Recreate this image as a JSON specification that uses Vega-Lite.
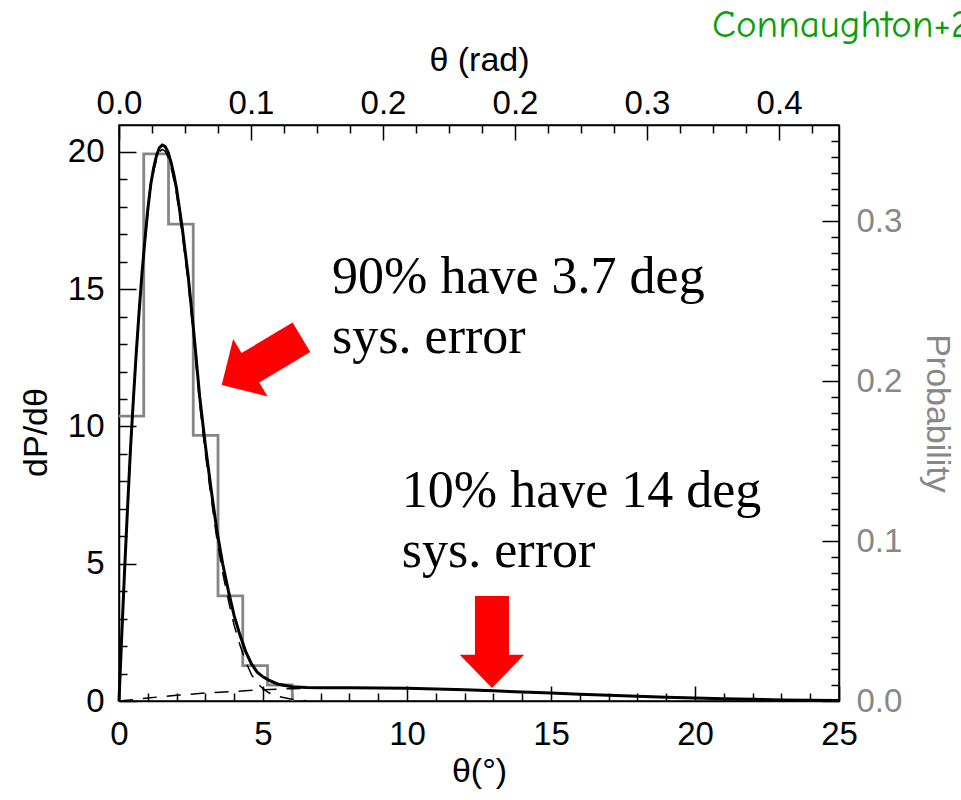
{
  "$schema": "https://vega.github.io/schema/vega-lite/v6.json",
  "width": 720,
  "height": 576,
  "autosize": {"type": "none"},
  "padding": {"left": 119, "top": 125, "right": 122, "bottom": 99},
  "background": "white",
  "config": {
    "view": {"stroke": "black", "strokeWidth": 1.5},
    "axis": {
      "grid": false,
      "domainColor": "black",
      "domainWidth": 1.5,
      "tickColor": "black",
      "tickWidth": 1.5,
      "labelFont": "Liberation Sans",
      "labelFontSize": 33,
      "labelColor": "black",
      "titleFont": "Liberation Sans",
      "titleFontSize": 34,
      "titleFontWeight": "normal",
      "titleColor": "black",
      "labelOverlap": false,
      "labelFlush": false
    }
  },
  "datasets": {
    "total": [
      {"theta": 0, "dp": 0}, {"theta": 0.1, "dp": 2.5}, {"theta": 0.2, "dp": 4.9}, {"theta": 0.3, "dp": 7.1},
      {"theta": 0.4, "dp": 9.2}, {"theta": 0.5, "dp": 11.0}, {"theta": 0.6, "dp": 12.7}, {"theta": 0.7, "dp": 14.2},
      {"theta": 0.8, "dp": 15.6}, {"theta": 0.9, "dp": 16.8}, {"theta": 1.0, "dp": 17.9}, {"theta": 1.1, "dp": 18.8},
      {"theta": 1.2, "dp": 19.4}, {"theta": 1.3, "dp": 19.85}, {"theta": 1.4, "dp": 20.15}, {"theta": 1.5, "dp": 20.25},
      {"theta": 1.6, "dp": 20.2}, {"theta": 1.7, "dp": 20.0}, {"theta": 1.8, "dp": 19.65}, {"theta": 1.9, "dp": 19.2},
      {"theta": 2.0, "dp": 18.65}, {"theta": 2.2, "dp": 17.2}, {"theta": 2.4, "dp": 15.5}, {"theta": 2.6, "dp": 13.4},
      {"theta": 2.8, "dp": 11.1}, {"theta": 3.0, "dp": 9.3}, {"theta": 3.2, "dp": 7.7}, {"theta": 3.4, "dp": 6.2},
      {"theta": 3.6, "dp": 5.0}, {"theta": 3.8, "dp": 4.0}, {"theta": 4.0, "dp": 3.1}, {"theta": 4.2, "dp": 2.4},
      {"theta": 4.4, "dp": 1.8}, {"theta": 4.6, "dp": 1.35}, {"theta": 4.8, "dp": 1.05}, {"theta": 5.0, "dp": 0.88},
      {"theta": 5.2, "dp": 0.76}, {"theta": 5.5, "dp": 0.62}, {"theta": 6.0, "dp": 0.52}, {"theta": 6.5, "dp": 0.49},
      {"theta": 7, "dp": 0.48}, {"theta": 8, "dp": 0.48}, {"theta": 9, "dp": 0.47}, {"theta": 10, "dp": 0.46},
      {"theta": 11, "dp": 0.44}, {"theta": 12, "dp": 0.41}, {"theta": 13, "dp": 0.37}, {"theta": 14, "dp": 0.33},
      {"theta": 15, "dp": 0.29}, {"theta": 16, "dp": 0.25}, {"theta": 17, "dp": 0.21}, {"theta": 18, "dp": 0.17},
      {"theta": 19, "dp": 0.14}, {"theta": 20, "dp": 0.11}, {"theta": 21, "dp": 0.08}, {"theta": 22, "dp": 0.06},
      {"theta": 23, "dp": 0.04}, {"theta": 24, "dp": 0.03}, {"theta": 25, "dp": 0.02}
    ],
    "narrow": [
      {"theta": 0, "dp": 0}, {"theta": 0.1, "dp": 2.49}, {"theta": 0.2, "dp": 4.88}, {"theta": 0.3, "dp": 7.08},
      {"theta": 0.4, "dp": 9.16}, {"theta": 0.5, "dp": 10.95}, {"theta": 0.6, "dp": 12.64}, {"theta": 0.7, "dp": 14.13},
      {"theta": 0.8, "dp": 15.52}, {"theta": 0.9, "dp": 16.71}, {"theta": 1.0, "dp": 17.79}, {"theta": 1.1, "dp": 18.68},
      {"theta": 1.2, "dp": 19.27}, {"theta": 1.3, "dp": 19.71}, {"theta": 1.4, "dp": 20.0}, {"theta": 1.5, "dp": 20.09},
      {"theta": 1.6, "dp": 20.03}, {"theta": 1.7, "dp": 19.82}, {"theta": 1.8, "dp": 19.46}, {"theta": 1.9, "dp": 19.0},
      {"theta": 2.0, "dp": 18.44}, {"theta": 2.2, "dp": 16.97}, {"theta": 2.4, "dp": 15.26}, {"theta": 2.6, "dp": 13.14},
      {"theta": 2.8, "dp": 10.83}, {"theta": 3.0, "dp": 9.01}, {"theta": 3.2, "dp": 7.4}, {"theta": 3.4, "dp": 5.89},
      {"theta": 3.6, "dp": 4.67}, {"theta": 3.8, "dp": 3.66}, {"theta": 4.0, "dp": 2.75}, {"theta": 4.2, "dp": 2.04},
      {"theta": 4.4, "dp": 1.43}, {"theta": 4.6, "dp": 0.96}, {"theta": 4.8, "dp": 0.65}, {"theta": 5.0, "dp": 0.45},
      {"theta": 5.2, "dp": 0.3}, {"theta": 5.5, "dp": 0.17}, {"theta": 6.0, "dp": 0.06}, {"theta": 6.5, "dp": 0.01}
    ],
    "broad": [
      {"theta": 0, "dp": 0}, {"theta": 0.5, "dp": 0.05}, {"theta": 1, "dp": 0.11}, {"theta": 1.5, "dp": 0.16},
      {"theta": 2, "dp": 0.21}, {"theta": 2.5, "dp": 0.25}, {"theta": 3, "dp": 0.29}, {"theta": 3.5, "dp": 0.32},
      {"theta": 4, "dp": 0.35}, {"theta": 4.5, "dp": 0.38}, {"theta": 5, "dp": 0.41}, {"theta": 5.5, "dp": 0.43},
      {"theta": 6, "dp": 0.45}, {"theta": 6.5, "dp": 0.46}, {"theta": 7, "dp": 0.47}, {"theta": 8, "dp": 0.48},
      {"theta": 9, "dp": 0.47}, {"theta": 10, "dp": 0.46}, {"theta": 11, "dp": 0.44}, {"theta": 12, "dp": 0.41},
      {"theta": 13, "dp": 0.37}, {"theta": 14, "dp": 0.33}, {"theta": 15, "dp": 0.29}, {"theta": 16, "dp": 0.25},
      {"theta": 17, "dp": 0.21}, {"theta": 18, "dp": 0.17}, {"theta": 19, "dp": 0.14}, {"theta": 20, "dp": 0.11},
      {"theta": 21, "dp": 0.08}, {"theta": 22, "dp": 0.06}, {"theta": 23, "dp": 0.04}, {"theta": 24, "dp": 0.03},
      {"theta": 25, "dp": 0.02}
    ],
    "hist": [
      {"theta": 0, "prob": 0.178}, {"theta": 0.859, "prob": 0.342}, {"theta": 1.719, "prob": 0.298},
      {"theta": 2.578, "prob": 0.166}, {"theta": 3.438, "prob": 0.0657}, {"theta": 4.297, "prob": 0.0221},
      {"theta": 5.157, "prob": 0.0100}, {"theta": 6.016, "prob": 0}
    ],
    "arrows": [
      {"theta": 4.95, "dp": 12.38, "target": "narrow"},
      {"theta": 12.95, "dp": 2.15, "target": "broad"}
    ],
    "notes": [
      {"theta": 7.40, "dp": 14.86, "label": "90% have 3.7 deg\nsys. error"},
      {"theta": 9.82, "dp": 7.08, "label": "10% have 14 deg\nsys. error"}
    ],
    "cite": [
      {"theta": 20.59, "dp": 24.2, "label": "Connaughton+2015"}
    ],
    "radaxis": [
      {"rad": 0}, {"rad": 0.43633}
    ]
  },
  "layer": [
    {
      "data": {"name": "hist"},
      "mark": {"type": "line", "interpolate": "step-after", "color": "#868686", "strokeWidth": 2.8},
      "encoding": {
        "x": {"field": "theta", "type": "quantitative", "scale": {"domain": [0, 25], "nice": false, "zero": false}, "axis": null},
        "y": {
          "field": "prob", "type": "quantitative",
          "scale": {"domain": [0, 0.36], "nice": false},
          "axis": {
            "orient": "right",
            "title": "Probability",
            "titleColor": "#888888",
            "labelColor": "#888888",
            "values": [0, 0.01, 0.02, 0.03, 0.04, 0.05, 0.06, 0.07, 0.08, 0.09, 0.1, 0.11, 0.12, 0.13, 0.14, 0.15, 0.16, 0.17, 0.18, 0.19, 0.2, 0.21, 0.22, 0.23, 0.24, 0.25, 0.26, 0.27, 0.28, 0.29, 0.3, 0.31, 0.32, 0.33, 0.34, 0.35],
            "labelExpr": "round(datum.value * 100) % 10 === 0 ? format(datum.value, '.1f') : ''",
            "tickSize": {"condition": {"test": "round(datum.value * 100) % 10 === 0", "value": -17}, "value": -8},
            "labelPadding": 34,
            "titlePadding": 18
          }
        }
      }
    },
    {
      "encoding": {
        "x": {
          "field": "theta", "type": "quantitative",
          "scale": {"domain": [0, 25], "nice": false, "zero": false},
          "axis": {
            "orient": "bottom",
            "title": "θ(°)",
            "values": [0, 1, 2, 3, 4, 5, 6, 7, 8, 9, 10, 11, 12, 13, 14, 15, 16, 17, 18, 19, 20, 21, 22, 23, 24, 25],
            "labelExpr": "datum.value % 5 === 0 ? datum.label : ''",
            "tickSize": {"condition": {"test": "datum.value % 5 === 0", "value": -15}, "value": -8},
            "labelPadding": 32,
            "titlePadding": -4
          }
        },
        "y": {
          "field": "dp", "type": "quantitative",
          "scale": {"domain": [0, 20.98], "nice": false},
          "axis": {
            "orient": "left",
            "title": "dP/dθ",
            "titleY": 307,
            "values": [0, 1, 2, 3, 4, 5, 6, 7, 8, 9, 10, 11, 12, 13, 14, 15, 16, 17, 18, 19, 20],
            "labelExpr": "datum.value % 5 === 0 ? datum.label : ''",
            "tickSize": {"condition": {"test": "datum.value % 5 === 0", "value": -17}, "value": -8},
            "labelPadding": 32,
            "titlePadding": 14
          }
        }
      },
      "layer": [
        {"data": {"name": "broad"}, "mark": {"type": "line", "color": "black", "strokeWidth": 1.5, "strokeDash": [14, 10]}},
        {"data": {"name": "narrow"}, "mark": {"type": "line", "color": "black", "strokeWidth": 1.5, "strokeDash": [14, 10]}},
        {"data": {"name": "total"}, "mark": {"type": "line", "color": "black", "strokeWidth": 3}},
        {
          "data": {"name": "arrows"},
          "transform": [{"filter": "datum.target === 'narrow'"}],
          "mark": {"type": "point", "filled": true, "color": "#ff0000", "opacity": 1, "size": 8650, "angle": 59,
                   "shape": "M -0.37 -1 L 0.37 -1 L 0.37 0.28 L 0.72 0.28 L 0 1 L -0.72 0.28 L -0.37 0.28 Z"}
        },
        {
          "data": {"name": "arrows"},
          "transform": [{"filter": "datum.target === 'broad'"}],
          "mark": {"type": "point", "filled": true, "color": "#ff0000", "opacity": 1, "size": 8464, "angle": 0,
                   "shape": "M -0.37 -1 L 0.37 -1 L 0.37 0.28 L 0.7 0.28 L 0 1 L -0.7 0.28 L -0.37 0.28 Z"}
        },
        {
          "data": {"name": "notes"},
          "mark": {"type": "text", "font": "Liberation Serif", "fontSize": 52, "align": "left", "baseline": "alphabetic",
                   "lineBreak": "\n", "lineHeight": 60, "color": "black"},
          "encoding": {"text": {"field": "label"}}
        },
        {
          "data": {"name": "cite"},
          "mark": {"type": "text", "font": "Comic Sans MS, Comic Neue, DejaVu Sans", "fontSize": 39, "align": "left",
                   "baseline": "alphabetic", "color": "#0a9e0a"},
          "encoding": {"text": {"field": "label"}}
        }
      ]
    },
    {
      "data": {"name": "radaxis"},
      "mark": {"type": "point", "opacity": 0},
      "encoding": {
        "x": {
          "field": "rad", "type": "quantitative",
          "scale": {"domain": [0, 0.43633], "nice": false, "zero": false},
          "axis": {
            "orient": "top",
            "title": "θ (rad)",
            "values": [0, 0.02, 0.04, 0.06, 0.08, 0.1, 0.12, 0.14, 0.16, 0.18, 0.2, 0.22, 0.24, 0.26, 0.28, 0.3, 0.32, 0.34, 0.36, 0.38, 0.4, 0.42],
            "labelExpr": "round(datum.value * 100) % 8 === 0 ? format(datum.value, '.1f') : ''",
            "tickSize": {"condition": {"test": "round(datum.value * 100) % 8 === 0", "value": -15}, "value": -8},
            "labelPadding": 20,
            "titlePadding": 3
          }
        }
      }
    }
  ],
  "resolve": {"scale": {"x": "independent", "y": "independent"}}
}
